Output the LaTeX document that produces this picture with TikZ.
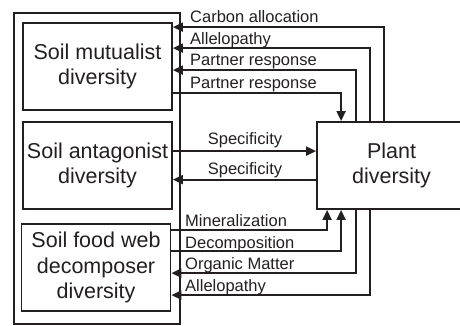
\documentclass[tikz,border=0pt]{standalone}
\usepackage{fontspec}
\setmainfont{Liberation Sans}
\usetikzlibrary{arrows.meta}
\definecolor{ink}{RGB}{35,31,32}
\begin{document}
\begin{tikzpicture}[x=1pt,y=-1pt,
  box/.style={draw=ink,line width=1.8pt,minimum width=149pt,minimum height=87pt,inner sep=0pt,align=center,text=ink,font=\fontsize{21.5}{25.5}\selectfont},
  arr/.style={draw=ink,line width=1.8pt,-{Triangle[length=10pt,width=9pt]}},
  lab/.style={text=ink,inner sep=0pt,font=\fontsize{16.5}{18}\selectfont}]
\useasboundingbox (0,0) rectangle (460,326);
\node[draw=ink,line width=1.8pt,minimum width=166pt,minimum height=311pt,inner sep=0pt] (outer) at (97,168.5) {};
\node[box] (mut) at (97.5,66.5) {Soil mutualist\\diversity};
\node[box] (ant) at (97.5,165.5) {Soil antagonist\\diversity};
\node[box] (dec) at (96,267.5) {Soil food web\\decomposer\\diversity};
\node[box] (plant) at (391.5,165.5) {Plant\\diversity};
% top arrows
\draw[arr] ([xshift=68pt]plant.north west) |- ([yshift=-5pt]mut.north east);
\draw[arr] ([xshift=54pt]plant.north west) |- ([yshift=-26pt]mut.north east);
\draw[arr] ([xshift=39.5pt]plant.north west) |- ([yshift=-48pt]mut.north east);
\draw[arr] ([yshift=-71pt]mut.north east) -| ([xshift=25pt]plant.north west);
% middle
\draw[arr] ([yshift=-30pt]ant.north east) -- ([yshift=-30pt]plant.north west);
\draw[arr] ([yshift=-58.5pt]plant.north west) -- ([yshift=-58.5pt]ant.north east);
% bottom
\draw[arr] ([yshift=-7pt]dec.north east) -| ([xshift=11pt]plant.south west);
\draw[arr] ([yshift=-28pt]dec.north east) -| ([xshift=25pt]plant.south west);
\draw[arr] ([xshift=39.5pt]plant.south west) |- ([yshift=-50pt]dec.north east);
\draw[arr] ([xshift=54pt]plant.south west) |- ([yshift=-72pt]dec.north east);
% labels
\node[lab,anchor=base west] (l1) at (190,23) {Carbon allocation};
\node[lab,anchor=base west] (l2) at (190,44.5) {Allelopathy};
\node[lab,anchor=base west] (l3) at (190,66) {Partner response};
\node[lab,anchor=base west] (l4) at (190,88.5) {Partner response};
\node[lab,anchor=base] (l5) at (245,144.5) {Specificity};
\node[lab,anchor=base] (l6) at (245,174.5) {Specificity};
\node[lab,anchor=base west] (l7) at (185,226.5) {Mineralization};
\node[lab,anchor=base west] (l8) at (185,248.5) {Decomposition};
\node[lab,anchor=base west] (l9) at (185,269.5) {Organic Matter};
\node[lab,anchor=base west] (l10) at (185,291.5) {Allelopathy};
\end{tikzpicture}
\end{document}
